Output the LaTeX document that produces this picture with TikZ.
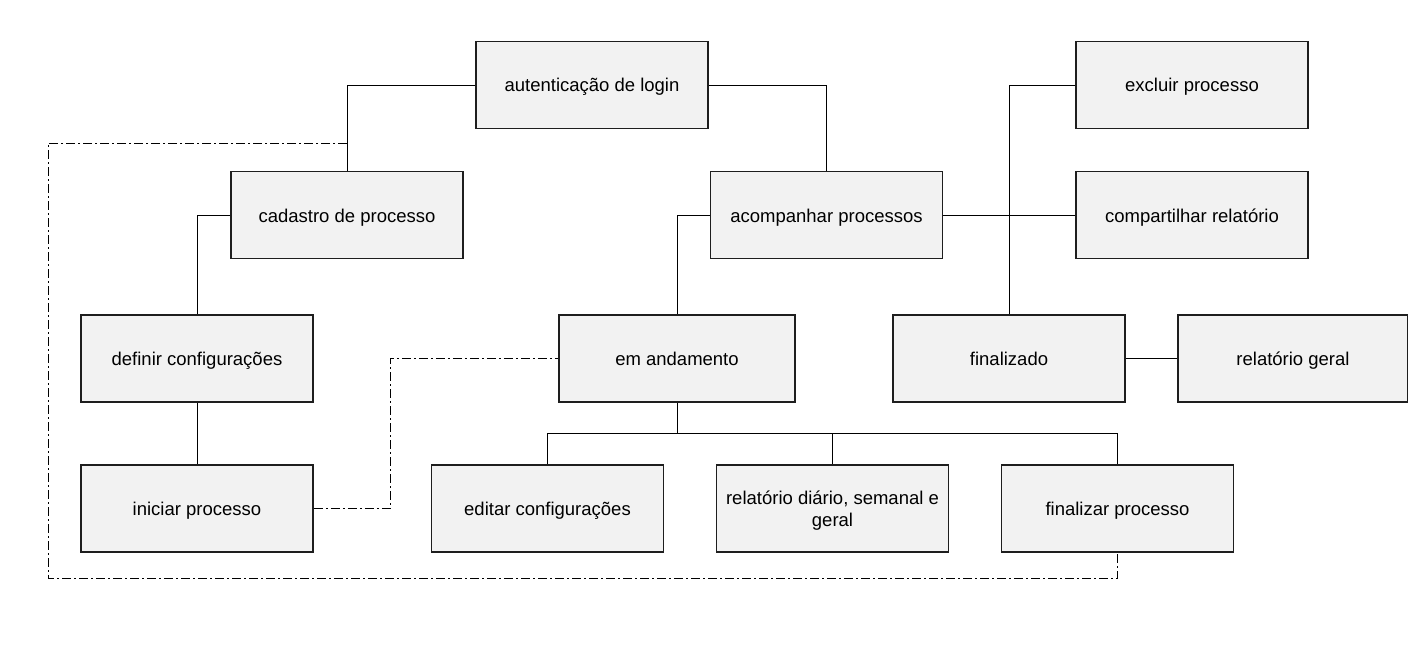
\documentclass[tikz,border=0pt]{standalone}
\usepackage{fontspec}
\setmainfont{Liberation Sans}
\definecolor{boxfill}{HTML}{F2F2F2}
\definecolor{boxline}{HTML}{1E1E1E}
\begin{document}
\begin{tikzpicture}[x=1pt,y=1pt,
  box/.style={draw=boxline, fill=boxfill, line width=1.8pt, minimum width=232pt, minimum height=87pt, inner sep=0pt, align=center, text height=14pt, text depth=0pt, font=\fontsize{18.5}{22}\selectfont},
  conn/.style={draw=black, line width=1pt},
  dd/.style={draw=black, line width=1pt, dash pattern=on 9pt off 3pt on 2pt off 3pt}]
\useasboundingbox (0,0) rectangle (1408,-669);
\fill[white] (0,0) rectangle (1408,-669);
% nodes
\node[box] (auth)  at (592,-85) {autenticação de login};
\node[box] (cad)   at (347,-215) {cadastro de processo};
\node[box] (acomp) at (826.5,-215) {acompanhar processos};
\node[box] (excl)  at (1192,-85) {excluir processo};
\node[box] (comp)  at (1192,-215) {compartilhar relatório};
\node[box] (def)   at (197,-358.5) {definir configurações};
\node[box, minimum width=236pt] (anda) at (677,-358.5) {em andamento};
\node[box] (fin)   at (1009,-358.5) {finalizado};
\node[box, minimum width=230pt] (relg) at (1293,-358.5) {relatório geral};
\node[box] (ini)   at (197,-508.5) {iniciar processo};
\node[box] (edit)  at (547.5,-508.5) {editar configurações};
\node[box, text height={}, text depth=0pt] (reld)  at (832.5,-508.5) {relatório diário, semanal e\\geral};
\node[box] (finp)  at (1117.5,-508.5) {finalizar processo};
% connectors
\coordinate (bus) at (677,-433);
\draw[conn] (auth.west) -| (cad.north);
\draw[conn] (auth.east) -| (acomp.north);
\draw[conn] (cad.west) -| (def.north);
\draw[conn] (def.south) -- (ini.north);
\draw[conn] (acomp.west) -| (anda.north);
\draw[conn] (acomp.east) -- (comp.west);
\draw[conn] (excl.west) -| (fin.north);
\draw[conn] (fin.east) -- (relg.west);
\draw[conn] (anda.south) -- (bus);
\draw[conn] (edit.north) |- (bus -| finp.north) -- (finp.north);
\draw[conn] (reld.north) -- (reld.north |- bus);
% dash-dot connectors
\coordinate (d1) at (347,-143);
\coordinate (dl) at (48,-143);
\coordinate (db) at (48,-578);
\draw[dd] (d1) -- (dl) -- (db) -| (finp.south);
\coordinate (v) at (390,-508.5);
\draw[dd] (ini.east) -- (v) |- (anda.west);
\end{tikzpicture}
\end{document}
